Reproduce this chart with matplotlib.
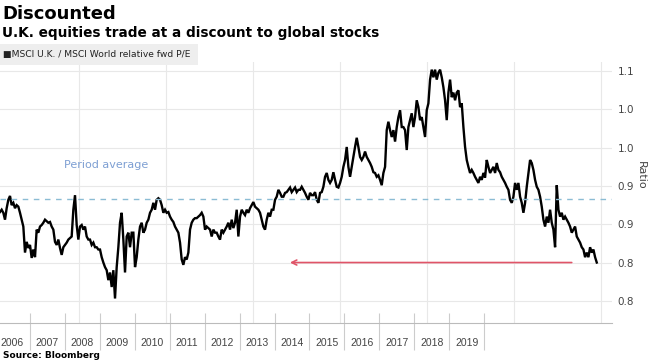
import matplotlib
matplotlib.use("Agg")
import matplotlib.pyplot as plt
import pandas as pd

# ---------------- data ----------------
start_date = "2006-03-08"
step = "14D"
ratio = [
    0.916, 0.919, 0.915, 0.906, 0.921, 0.932, 0.937, 0.925, 0.928, 0.921,
    0.925, 0.923, 0.915, 0.906, 0.897, 0.863, 0.877, 0.869, 0.873, 0.856,
    0.867, 0.857, 0.893, 0.889, 0.897, 0.899, 0.902, 0.906, 0.904, 0.902,
    0.903, 0.897, 0.893, 0.877, 0.873, 0.880, 0.869, 0.860, 0.870, 0.873,
    0.876, 0.880, 0.882, 0.884, 0.919, 0.938, 0.899, 0.880, 0.897, 0.899,
    0.893, 0.897, 0.884, 0.880, 0.880, 0.873, 0.876, 0.870, 0.870, 0.867,
    0.867, 0.857, 0.850, 0.844, 0.840, 0.827, 0.837, 0.818, 0.840, 0.803,
    0.844, 0.870, 0.902, 0.915, 0.880, 0.837, 0.884, 0.889, 0.870, 0.889,
    0.889, 0.844, 0.857, 0.880, 0.897, 0.902, 0.889, 0.893, 0.902, 0.906,
    0.915, 0.919, 0.928, 0.919, 0.932, 0.934, 0.932, 0.925, 0.915, 0.919,
    0.915, 0.916, 0.910, 0.906, 0.903, 0.897, 0.893, 0.889, 0.876, 0.854,
    0.847, 0.857, 0.854, 0.863, 0.893, 0.902, 0.906, 0.908, 0.908, 0.910,
    0.912, 0.915, 0.910, 0.893, 0.897, 0.895, 0.893, 0.884, 0.893, 0.889,
    0.889, 0.884, 0.880, 0.893, 0.889, 0.893, 0.897, 0.902, 0.893, 0.906,
    0.895, 0.902, 0.919, 0.884, 0.910, 0.919, 0.915, 0.912, 0.919, 0.915,
    0.921, 0.925, 0.929, 0.923, 0.921, 0.919, 0.915, 0.906, 0.897, 0.893,
    0.906, 0.915, 0.910, 0.919, 0.919, 0.932, 0.936, 0.945, 0.941, 0.936,
    0.936, 0.941, 0.942, 0.945, 0.948, 0.942, 0.945, 0.948, 0.942, 0.945,
    0.945, 0.949, 0.945, 0.941, 0.936, 0.932, 0.941, 0.938, 0.938, 0.942,
    0.932, 0.928, 0.941, 0.942, 0.949, 0.962, 0.967, 0.958, 0.954, 0.958,
    0.968, 0.958, 0.949, 0.948, 0.954, 0.962, 0.975, 0.984, 1.001, 0.975,
    0.962, 0.975, 0.988, 1.001, 1.013, 1.001, 0.988, 0.984, 0.988, 0.995,
    0.988, 0.984, 0.980, 0.975, 0.968, 0.967, 0.962, 0.964, 0.958, 0.951,
    0.967, 0.975, 1.023, 1.034, 1.023, 1.014, 1.023, 1.008, 1.027, 1.040,
    1.049, 1.027, 1.027, 1.023, 0.997, 1.027, 1.036, 1.045, 1.027, 1.040,
    1.062, 1.053, 1.036, 1.040, 1.027, 1.014, 1.049, 1.058, 1.089, 1.102,
    1.092, 1.102, 1.089, 1.098, 1.102, 1.092, 1.079, 1.062, 1.036, 1.072,
    1.089, 1.066, 1.072, 1.062, 1.072, 1.075, 1.053, 1.058, 1.027, 1.001,
    0.984, 0.975, 0.967, 0.971, 0.967, 0.962, 0.958, 0.954, 0.962, 0.958,
    0.967, 0.961, 0.984, 0.975, 0.967, 0.971, 0.975, 0.967, 0.980, 0.971,
    0.968, 0.962, 0.958, 0.954, 0.949, 0.945, 0.932, 0.928, 0.936, 0.954,
    0.945, 0.954, 0.936, 0.928, 0.915, 0.928, 0.949, 0.967, 0.984, 0.980,
    0.971, 0.958, 0.949, 0.945, 0.936, 0.923, 0.906, 0.897, 0.910, 0.902,
    0.919, 0.902, 0.893, 0.870, 0.951, 0.919, 0.910, 0.915, 0.906, 0.910,
    0.906, 0.902, 0.897, 0.889, 0.893, 0.897, 0.884, 0.880, 0.876, 0.870,
    0.867, 0.857, 0.863, 0.857, 0.870, 0.863, 0.867, 0.857, 0.850,
]
dates = pd.date_range(start=start_date, periods=len(ratio), freq=step)

period_average = 0.933
ytick_values = [0.80, 0.85, 0.90, 0.95, 1.00, 1.05, 1.10]
ytick_labels = ["0.8", "0.8", "0.9", "0.9", "1.0", "1.0", "1.1"]
grid_years = [2008, 2010, 2012, 2014, 2016, 2018, 2020]
strip_years = list(range(2006, 2020))

arrow_start = pd.Timestamp("2019-05-01")
arrow_end = pd.Timestamp("2012-11-06")
arrow_level = 0.85
avg_label_pos = (pd.Timestamp("2007-08-25"), 0.977)

# ---------------- figure ----------------
W, H = 650, 364
fig = plt.figure(figsize=(W / 100, H / 100), dpi=100)
fig.patch.set_facecolor("white")

def fx(px):
    return px / W

def fy(py):
    return 1 - py / H

grid_col = "#e8e8e8"
txt_col = "#444444"

# main axes
ax = fig.add_axes([fx(0), fy(323), fx(612), fy(62) - fy(323)])
ax.plot(dates, ratio, color="black", lw=1.7, solid_joinstyle="miter")
ax.set_xlim(pd.Timestamp("2006-03-08"), pd.Timestamp("2020-04-03"))
ax.set_ylim(0.771, 1.112)
ax.set_yticks(ytick_values)
ax.set_yticklabels(ytick_labels)
ax.yaxis.tick_right()
ax.tick_params(axis="y", length=0, pad=4, labelsize=7.5, labelcolor=txt_col)
ax.set_xticks([pd.Timestamp(f"{y}-01-01") for y in grid_years])
ax.tick_params(axis="x", length=0, labelbottom=False)
ax.grid(True, color=grid_col, lw=0.8)
ax.set_axisbelow(True)
for s in ax.spines.values():
    s.set_visible(False)

ax.axhline(period_average, color="#8bbcd4", lw=1.0, ls=(0, (4, 4)))
ax.text(avg_label_pos[0], avg_label_pos[1], "Period average", color="#7d9fd3",
        fontsize=8, va="center", ha="left")
ax.annotate("", xy=(arrow_end, arrow_level), xytext=(arrow_start, arrow_level),
            arrowprops=dict(arrowstyle="->", color="#e05468", lw=1.2,
                            mutation_scale=9, shrinkA=0, shrinkB=0))

fig.text(fx(641), fy(175), "Ratio", rotation=270, fontsize=8, color=txt_col,
         ha="center", va="center")

# bottom year strip
ax2 = fig.add_axes([fx(0), fy(350), fx(612), fy(323) - fy(350)])
ax2.set_xlim(2006.157, 2023.643)
ax2.set_ylim(0, 1)
ax2.set_yticks([])
ax2.set_xticks([y + 1 for y in strip_years])
ax2.set_xticklabels([])
ax2.set_xticks([y + 0.5 for y in strip_years], minor=True)
ax2.set_xticklabels([str(y) for y in strip_years], minor=True)
ax2.tick_params(axis="x", which="major", direction="in", length=27,
                color="#cccccc", width=0.8)
ax2.tick_params(axis="x", which="minor", length=0, pad=-9, labelsize=7.5,
                labelcolor=txt_col)
for lab in ax2.get_xticklabels(minor=True):
    lab.set_family("Liberation Sans")
for k, s in ax2.spines.items():
    s.set_visible(k == "top")
ax2.spines["top"].set_color("#bbbbbb")
ax2.patch.set_alpha(0)

# titles
fig.text(fx(2), fy(14), "Discounted", fontsize=13, fontweight="bold",
         ha="left", va="center", color="black")
fig.text(fx(2), fy(33), "U.K. equities trade at a discount to global stocks",
         fontsize=9.8, fontweight="bold", ha="left", va="center", color="black")

# legend box
leg = fig.add_axes([fx(0), fy(65), fx(198), fy(44) - fy(65)])
leg.set_xticks([]); leg.set_yticks([])
leg.set_facecolor("#eeeeee")
for s in leg.spines.values():
    s.set_visible(False)
leg.text(0.015, 0.5, "\u25a0MSCI U.K. / MSCI World relative fwd P/E",
         fontsize=6.6, va="center", ha="left", color="#222222",
         transform=leg.transAxes)

fig.text(fx(3), fy(356), "Source: Bloomberg", fontsize=6.5, fontweight="bold",
         ha="left", va="center", color="black")

fig.savefig("out.png", dpi=100)
